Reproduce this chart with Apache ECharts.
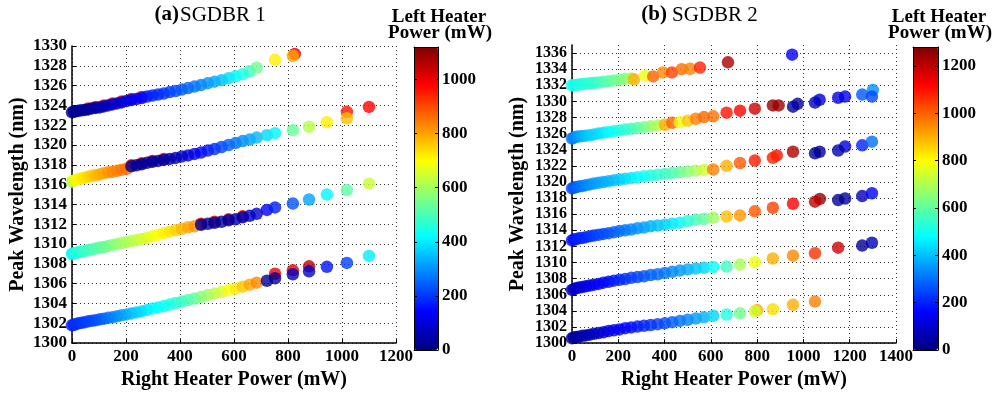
<!DOCTYPE html>
<html><head><meta charset="utf-8">
<script src="https://cdn.jsdelivr.net/npm/echarts@6/dist/echarts.min.js"></script>
<style>html,body{margin:0;padding:0;background:#fff}#c{width:995px;height:395px}</style>
</head><body><div id="c"></div>
<script>
// ---------- Panel (a) SGDBR 1 : right heater power (mW) shared by the four bands ----------
const aX = [0,6,14,24,35,47,60,74,88,103,118,134,150,167,184,202,220,239,258,278,298,319,340,362,384,407,430,454,478,503,528,554,580,606,632,658,684,722,752,818,878,944,1018,1100];
const a1Y = [1323.3,1323.35,1323.4,1323.45,1323.5,1323.55,1323.6,1323.7,1323.75,1323.8,
 1323.9,1324.0,1324.1,1324.2,1324.3,1324.45,1324.55,1324.65,1324.75,1324.9,
 1325.0,1325.1,1325.2,1325.35,1325.45,1325.6,1325.75,1325.9,1326.05,1326.25,
 1326.4,1326.55,1326.75,1326.95,1327.15,1327.45,1327.8,null,1328.6,1329.0,
 null,null,null,null];
const a1C = [20,20,22,25,28,30,32,35,38,40,
 55,65,75,85,95,110,120,130,140,155,
 170,180,190,205,220,235,250,265,280,295,
 320,345,380,410,440,480,540,null,720,800,
 null,null,null,null];
const a2Y = [1316.3,1316.4,1316.5,1316.55,1316.65,1316.7,1316.8,1316.9,1316.95,1317.05,
 1317.15,1317.25,1317.3,1317.4,1317.5,1317.6,1317.85,1317.95,1318.05,1318.2,
 1318.3,1318.4,1318.5,1318.6,1318.7,1318.85,1318.95,1319.1,1319.25,1319.45,
 1319.6,1319.8,1320.0,1320.2,1320.4,1320.55,1320.75,1321.0,1321.2,1321.5,
 1321.85,1322.3,1322.7,1323.85];
const a2C = [600,660,690,710,720,730,745,760,775,790,
 800,815,830,840,850,860,25,25,28,30,
 32,35,40,45,55,75,95,115,135,160,
 185,210,240,265,290,315,340,380,410,530,
 620,720,770,980];
const a3Y = [1309.0,1309.05,1309.1,1309.2,1309.25,1309.3,1309.4,1309.45,1309.55,1309.65,
 1309.7,1309.8,1309.9,1310.0,1310.1,1310.2,1310.3,1310.4,1310.5,1310.65,
 1310.8,1310.95,1311.1,1311.25,1311.4,1311.55,1311.7,1311.8,1311.95,1312.05,
 1312.15,1312.25,1312.4,1312.5,1312.7,1312.85,1313.05,1313.45,1313.7,1314.1,
 1314.5,1315.0,1315.45,1316.1];
const a3C = [400,430,450,460,470,480,490,500,510,520,
 530,545,560,575,590,600,615,630,645,660,
 680,700,715,730,750,780,800,820,25,25,
 28,30,35,40,55,70,90,130,170,230,
 320,410,520,640];
const a4Y = [1301.8,1301.85,1301.9,1302.0,1302.05,1302.1,1302.2,1302.25,1302.3,1302.4,
 1302.45,1302.55,1302.6,1302.7,1302.8,1302.9,1303.0,1303.1,1303.2,1303.35,
 1303.5,1303.6,1303.75,1303.9,1304.05,1304.2,1304.35,1304.5,1304.65,1304.85,
 1305.0,1305.15,1305.35,1305.5,1305.7,1305.9,1306.1,1306.3,1306.55,1306.95,
 1307.25,1307.7,1308.1,1308.8];
const a4C = [170,180,190,195,200,205,210,215,220,230,
 245,260,275,290,305,320,340,360,375,390,
 410,420,430,440,455,480,500,520,560,590,
 620,650,690,720,760,800,830,20,30,70,
 90,160,210,400];
// partly hidden points (drawn first)
const aBackX = [60,88,118,150,184,220,258,825, 220,258,298,340, 1018, 478,528,580,632, 752,818,878];
const aBackY = [1323.7,1323.85,1324.0,1324.2,1324.4,1324.65,1324.85,1329.2, 1317.95,1318.15,1318.4,1318.6, 1323.35, 1312.05,1312.25,1312.5,1312.8, 1307.0,1307.35,1307.75];
const aBackC = [1000,1000,1000,1000,1000,1000,1000,1000, 1000,1000,1000,1000, 960, 1000,1000,1000,1000, 1000,1000,1050];

// ---------- Panel (b) SGDBR 2 ----------
const b1X = [0,8,18,30,44,60,77,95,115,136,158,181,205,230,256,268,315,351,393,432,474,510,553,674,951];
const b1Y = [1332.0,1332.0,1332.05,1332.1,1332.15,1332.2,1332.25,1332.3,1332.35,1332.45,1332.5,1332.6,1332.7,1332.8,1332.85,1332.75,1333.2,1333.1,1333.6,1333.6,1334.0,1334.05,1334.2,1334.85,1335.8];
const b1C = [500,505,510,515,520,525,530,540,555,570,590,610,630,650,680,900,780,1000,950,1040,980,960,1080,1230,150];
const bX = [0,8,18,30,44,60,77,95,115,136,158,181,205,230,256,283,311,340,370,401,433,466,500,535,570,610,668,726,790,868,955,1050,1150,1254,1296];
const b2Y = [1325.4,1325.5,1325.6,1325.65,1325.7,1325.75,1325.8,1325.9,1326.0,1326.1,
 1326.2,1326.3,1326.4,1326.5,1326.6,1326.7,1326.8,1326.9,1327.0,1327.1,
 1327.35,1327.4,1327.6,1327.85,1328.05,1328.15,1328.6,1328.85,1329.1,1329.5,
 1329.35,1329.85,1330.45,1330.85,1330.6];
const b2C = [300,320,340,360,380,400,415,425,435,450,
 470,490,510,530,550,580,620,660,700,900,
 1000,780,870,960,990,980,1100,1120,1180,1250,
 40,80,120,270,250];
const b3Y = [1319.2,1319.3,1319.35,1319.45,1319.5,1319.6,1319.7,1319.8,1319.9,1320.0,
 1320.1,1320.2,1320.3,1320.4,1320.5,1320.6,1320.7,1320.8,1320.9,1321.0,
 1321.1,1321.2,1321.3,1321.4,1321.5,1321.55,1322.0,1322.35,1322.65,1323.0,
 1323.75,1323.55,1323.9,1324.55,1325.0];
const b3C = [250,265,280,295,310,325,340,350,360,370,
 380,395,410,430,450,470,490,510,530,550,
 570,600,640,690,740,960,900,1010,1090,1080,
 1220,30,60,200,300];
const b4Y = [1312.75,1312.85,1312.9,1313.0,1313.05,1313.15,1313.25,1313.35,1313.45,1313.55,
 1313.65,1313.75,1313.9,1314.0,1314.1,1314.25,1314.35,1314.5,1314.6,1314.7,
 1314.8,1314.95,1315.15,1315.3,1315.4,1315.55,1315.7,1315.85,1316.35,1316.8,
 1317.3,1317.55,1317.75,1318.25,1318.6];
const b4C = [170,180,190,200,205,210,220,230,240,250,
 260,275,290,305,320,340,360,380,400,420,
 445,470,520,560,600,680,880,930,1010,1040,
 1120,1200,30,80,150];
const b5Y = [1306.6,1306.7,1306.8,1306.9,1306.95,1307.05,1307.15,1307.25,1307.35,1307.5,
 1307.6,1307.75,1307.85,1307.95,1308.1,1308.2,1308.3,1308.45,1308.55,1308.7,
 1308.85,1309.0,1309.15,1309.25,1309.35,1309.45,1309.5,1309.75,1310.05,1310.5,
 1310.85,1311.15,1311.85,1312.1,1312.45];
const b5C = [70,80,90,100,110,120,130,140,150,160,
 170,185,200,215,230,245,260,275,290,305,
 325,345,370,400,430,480,560,690,780,900,
 950,1060,1180,30,70];
const b6Y = [1300.6,1300.7,1300.75,1300.8,1300.9,1300.95,1301.05,1301.15,1301.25,1301.35,
 1301.5,1301.6,1301.7,1301.85,1301.95,1302.05,1302.15,1302.25,1302.35,1302.45,
 1302.6,1302.75,1302.9,1303.05,1303.2,1303.4,1303.55,1303.7,1303.95,1304.2,
 1304.75,1305.15,null,null,null];
const b6C = [30,35,40,45,50,55,65,75,90,105,
 120,135,150,160,170,185,200,215,230,250,
 270,295,320,350,380,430,520,620,740,840,
 900,960,null,null,null];
const bBackX = [893,975,1070,1180,1300, 885,1070,1180, 1071,1180, 800];
const bBackY = [1329.5,1329.7,1330.2,1330.6,1331.4, 1323.3,1323.75,1324.4, 1317.9,1317.95, 1304.1];
const bBackC = [1240,50,100,140,340, 1100,40,110, 1250,40, 900];

// axis ticks / ranges
const aXTicks = [0, 1200, 200], aYTicks = [1300, 1330, 2];
const bXTicks = [0, 1400, 200], bYTicks = [1300, 1337, 2];
const aCbar = [0, 1120, 200], bCbar = [0, 1280, 200];

function pts(xs, ys, cs) {
  const out = [];
  for (let i = 0; i < xs.length; i++) if (ys[i] != null) out.push([xs[i], ys[i], cs[i]]);
  return out;
}
const aMain = [].concat(pts(aX,a1Y,a1C), pts(aX,a2Y,a2C), pts(aX,a3Y,a3C), pts(aX,a4Y,a4C));
const bMain = [].concat(pts(b1X,b1Y,b1C), pts(bX,b2Y,b2C), pts(bX,b3Y,b3C), pts(bX,b4Y,b4C), pts(bX,b5Y,b5C), pts(bX,b6Y,b6C));

const jet = ['#00007f','#0000ff','#007fff','#00ffff','#7fff7f','#ffff00','#ff7f00','#ff0000','#7f0000'];
const FF = '"Liberation Serif", "Times New Roman", serif';
const plain = v => String(v);
const lbl = {color:'#000', fontFamily:FF, fontWeight:'bold', fontSize:17, formatter:plain};
const nameStyle = {color:'#000', fontFamily:FF, fontWeight:'bold', fontSize:20};
const grid = {show:true, lineStyle:{color:'#333', type:[1,3], width:1}};
const axLine = {show:true, onZero:false, lineStyle:{color:'#000', width:1.5}};
const tick = {show:true, inside:true, length:4, lineStyle:{color:'#000', width:1}};
const SYM = 12.5;

function mainX(g, t) {
  return {gridIndex:g, type:'value', min:t[0], max:t[1], interval:t[2], axisLine:axLine, axisTick:tick,
    axisLabel:Object.assign({margin:5}, lbl), splitLine:grid,
    name:'Right Heater Power (mW)', nameLocation:'middle', nameGap:26, nameTextStyle:nameStyle};
}
function mainY(g, t, fs) {
  return {gridIndex:g, type:'value', min:t[0], max:t[1], interval:t[2], axisLine:axLine, axisTick:tick,
    axisLabel:Object.assign({}, lbl, {margin:5, fontSize:fs, showMaxLabel: t[1] % t[2] === 0}),
    splitLine:Object.assign({showMaxLine: t[1] % t[2] === 0}, grid),
    name:'Peak Wavelength (nm)', nameLocation:'middle', nameGap:44, nameRotate:90, nameTextStyle:nameStyle};
}
const cbLine = {show:true, onZero:false, lineStyle:{color:'#000', width:1}};
function cbX(g, pos) {
  return {gridIndex:g, type:'value', min:0, max:1, position:pos, z:10, axisLine:cbLine,
    axisTick:{show:false}, axisLabel:{show:false}, splitLine:{show:false}};
}
function cbY(g, t, pos, labels) {
  return {gridIndex:g, type:'value', min:t[0], max:t[1], interval:t[2], position:pos, z:10, axisLine:cbLine,
    axisTick:{show:true, inside:true, length:3, lineStyle:{color:'#000'}},
    axisLabel:Object.assign({show:labels, margin:4, showMaxLabel:false}, lbl), splitLine:{show:false}};
}
function vm(t, series, left, w) {
  return {type:'continuous', min:t[0], max:t[1], dimension:2, seriesIndex:series, left:left, top:47,
    itemWidth:w, itemHeight:303, padding:0, calculable:false, hoverLink:false, orient:'vertical',
    inRange:{color:jet}};
}
function txt(x, y, s, font, align) {
  return {type:'text', x:x, y:y, z:20, style:{text:s, font:font, fill:'#000',
    textAlign:align, align:align, textVerticalAlign:'middle', verticalAlign:'middle'}};
}

const option = {
  animation:false,
  backgroundColor:'#fff',
  grid:[
    {left:72, top:46, width:324, height:302},
    {left:572, top:45, width:324, height:303},
    {left:414, top:47, width:24, height:303},
    {left:913, top:47, width:25, height:303}
  ],
  xAxis:[ mainX(0, aXTicks), mainX(1, bXTicks), cbX(2,'bottom'), cbX(2,'top'), cbX(3,'bottom'), cbX(3,'top') ],
  yAxis:[ mainY(0, aYTicks, 17), mainY(1, bYTicks, 16), cbY(2, aCbar, 'right', true), cbY(2, aCbar, 'left', false),
          cbY(3, bCbar, 'right', true), cbY(3, bCbar, 'left', false) ],
  visualMap:[ vm(aCbar, [0,1], 414, 24), vm(bCbar, [2,3], 913, 25) ],
  series:[
    {type:'scatter', xAxisIndex:0, yAxisIndex:0, symbol:'circle', symbolSize:SYM, clip:false, data:pts(aBackX,aBackY,aBackC)},
    {type:'scatter', xAxisIndex:0, yAxisIndex:0, symbol:'circle', symbolSize:SYM, clip:false, data:aMain},
    {type:'scatter', xAxisIndex:1, yAxisIndex:1, symbol:'circle', symbolSize:SYM, clip:false, data:pts(bBackX,bBackY,bBackC)},
    {type:'scatter', xAxisIndex:1, yAxisIndex:1, symbol:'circle', symbolSize:SYM, clip:false, data:bMain}
  ],
  graphic:[
    txt(179, 15, '(a)', 'bold 21px ' + FF, 'right'),
    txt(180, 15, 'SGDBR 1', '21px ' + FF, 'left'),
    txt(667, 15, '(b)', 'bold 21px ' + FF, 'right'),
    txt(672, 15, 'SGDBR 2', '21px ' + FF, 'left'),
    txt(439, 17, 'Left Heater', 'bold 19px ' + FF, 'center'),
    txt(440, 33, 'Power (mW)', 'bold 19px ' + FF, 'center'),
    txt(939, 17, 'Left Heater', 'bold 19px ' + FF, 'center'),
    txt(940, 33, 'Power (mW)', 'bold 19px ' + FF, 'center')
  ]
};
const chart = echarts.init(document.getElementById('c'), null, {renderer:'canvas'});
chart.setOption(option);
</script></body></html>
